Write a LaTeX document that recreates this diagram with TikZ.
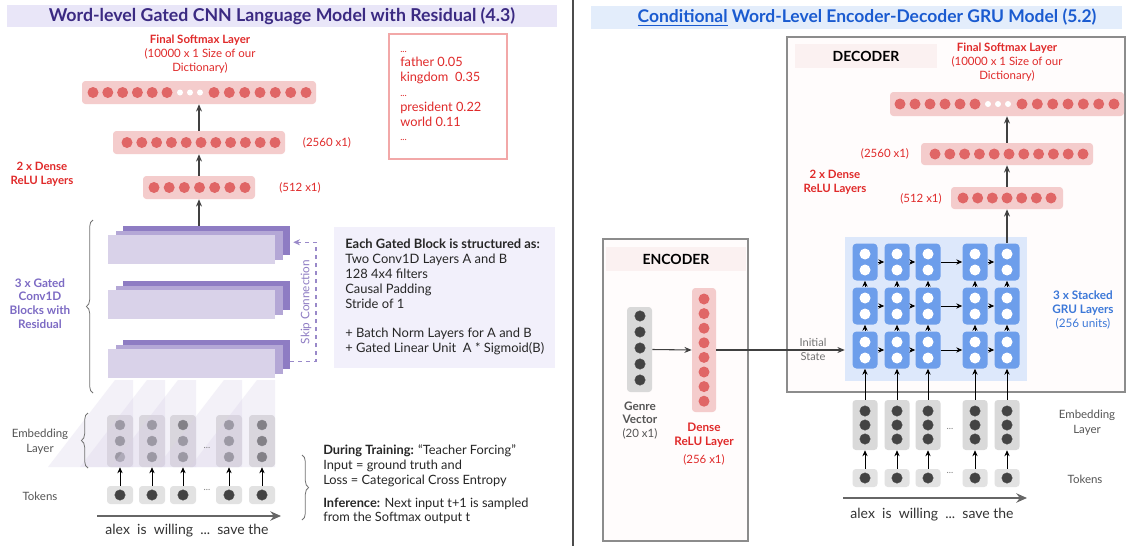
\documentclass[tikz,border=0pt]{standalone}
\usepackage{fontspec}
\setmainfont{Lato}
\usetikzlibrary{arrows.meta,decorations.pathreplacing,calc}
\newcommand*{\pxu}{*0.75pt}
\definecolor{lavband}{HTML}{E9E6F8}
\definecolor{lavtext}{HTML}{3B2A82}
\definecolor{redtxt}{HTML}{E02A2A}
\definecolor{barpink}{HTML}{F4CCCC}
\definecolor{dotred}{HTML}{E06666}
\definecolor{cvfront}{HTML}{D9D2E9}
\definecolor{cvmid}{HTML}{B4A7D6}
\definecolor{cvback}{HTML}{8E7CC3}
\definecolor{purptxt}{HTML}{7D6BC4}
\definecolor{infofill}{HTML}{F2F0FB}
\definecolor{boxgray}{HTML}{D9D9D9}
\definecolor{tokgray}{HTML}{E2E2E2}
\definecolor{darkdot}{HTML}{434343}
\definecolor{middot}{HTML}{5E5E5E}
\definecolor{grucell}{HTML}{6D9EEB}
\definecolor{grubgc}{HTML}{DDE8FB}
\definecolor{blueband}{HTML}{E3EDFB}
\definecolor{bluetxt}{HTML}{1A5BD0}
\definecolor{grutxt}{HTML}{3C78D8}
\definecolor{hdrpink}{HTML}{FBF1F1}
\definecolor{boxbg}{HTML}{FFFCFC}
\definecolor{probborder}{HTML}{F2A8A8}
\definecolor{labgray}{HTML}{555555}
\tikzset{
  bar/.style={fill=barpink, rounded corners=2.5pt, inner sep=0, draw=none},
  rdot/.style={circle, fill=dotred, inner sep=0, minimum size=11\pxu},
  wdot/.style={circle, fill=white, inner sep=0, minimum size=6\pxu},
  gdot/.style={circle, fill=white, inner sep=0, minimum size=11\pxu},
  ddot/.style={circle, fill=darkdot, draw=black!70, line width=0.3pt, inner sep=0, minimum size=10.5\pxu},
  mdot/.style={circle, fill=middot, draw=black!60, line width=0.3pt, inner sep=0, minimum size=10\pxu},
  arr/.style={draw=black!75, line width=0.8pt, -{Stealth[length=5.5pt,width=4.5pt]}},
  sarr/.style={draw=black, line width=0.7pt, -{Stealth[length=4.5pt,width=4pt]}},
  embbox/.style={fill=boxgray, rounded corners=2.5pt, inner sep=0},
  tokbox/.style={fill=tokgray, rounded corners=2.5pt, inner sep=0},
  gcell/.style={fill=grucell, rounded corners=3pt, inner sep=0, minimum width=25\pxu, minimum height=37\pxu},
  cvbox/.style={inner sep=0, minimum width=167\pxu, minimum height=29\pxu},
  brc/.style={decorate, decoration={brace, amplitude=5pt}, draw=black!55, line width=0.6pt},
  redlab/.style={text=redtxt, align=center, font=\fontsize{8.6}{10.5}\selectfont},
  graylab/.style={text=labgray, align=center, font=\fontsize{8.6}{11}\selectfont},
  body/.style={text=black!85, align=left, inner sep=0}
}
\begin{document}
\begin{tikzpicture}[x=0.75pt,y=-0.75pt]
\useasboundingbox (0,0) rectangle (1128,546);
\fill[white] (0,0) rectangle (1128,546);

% divider
\draw[line width=0.8pt, black!70] (573,0) -- (573,546);

%================ LEFT PANEL =================
\node[fill=lavband, minimum width=550\pxu, minimum height=22\pxu, inner sep=0,
      text=lavtext, font=\fontsize{13.3}{15}\selectfont\bfseries] (titleL) at (282,16)
      {Word-level Gated CNN Language Model with Residual (4.3)};

\node[redlab] (smLlab) at (200,54) {\textbf{Final Softmax Layer}\\(10000 x 1 Size of our\\Dictionary)};

\node[bar, minimum width=234\pxu, minimum height=23\pxu] (smL) at (199,92.5) {};
\foreach \x in {93,107.8,122.6,137.4,152.2,167,214,229.3,244.7,260,275.3,290.7,306}
  \node[rdot] at (\x,92.5) {};
\foreach \x in {180,190,200} \node[wdot] at (\x,92.5) {};

\node[bar, minimum width=172\pxu, minimum height=23\pxu] (h2L) at (199,142.5) {};
\foreach \i in {0,...,10} \node[rdot] at (127+14.8*\i,142.5) {};
\node[bar, minimum width=112\pxu, minimum height=23\pxu] (h1L) at (199,187.5) {};
\foreach \i in {0,...,6} \node[rdot] at (154+15.17*\i,187.5) {};

\draw[arr] (h2L.north) -- (smL.south);
\draw[arr] (h1L.north) -- (h2L.south);

\node[redlab] (h2Llab) at (327,143) {(2560 x1)};
\node[redlab] (h1Llab) at (300,188) {(512 x1)};
\node[redlab, font=\fontsize{8.6}{10.5}\selectfont\bfseries] (denseL) at (42,174) {2 x Dense\\ReLU Layers};

% probability box
\node[draw=probborder, line width=0.8pt, minimum width=118\pxu, minimum height=125\pxu, inner sep=0] (prob) at (448,96.5) {};
\node[anchor=west, align=left, inner sep=0, text=redtxt, font=\fontsize{9.6}{11.1}\selectfont] (probt) at (400,96)
  {{\scriptsize...}\\father 0.05\\kingdom\ \ 0.35\\{\scriptsize...}\\president 0.22\\world 0.11\\{\scriptsize...}};

% conv stacks
\foreach \T/\n in {235/1,290/2,349/3}{
  \node[cvbox, fill=cvback] (cv\n b) at (206.5,\T+5.5) {};
  \node[cvbox, fill=cvmid]  (cv\n m) at (199,\T+10) {};
  \node[cvbox, fill=cvfront] (cv\n f) at (191.5,\T+14.5) {};
}
\draw[arr] (h1L.south |- cv1b.north) -- (h1L.south);

% skip connection
\coordinate (skA) at ($(cv3b.south east)+(0,-8)$);
\coordinate (skB) at ($(cv1b.south east)+(3,-13)$);
\draw[draw=cvback!90, dashed, line width=0.8pt, -{Stealth[length=5pt,width=4.5pt]}]
  (skA) -- (skA -| 316,0) -- (skB -| 316,0) -- (skB);
\node[rotate=90, text=cvback, font=\fontsize{8.8}{10}\selectfont] (sklab) at (306,302) {Skip Connection};

\draw[brc] (93,393) -- (93,220);
\node[text=purptxt, align=center, font=\fontsize{8.8}{10.3}\selectfont\bfseries] (convlab) at (40,303.5)
  {3 x Gated\\Conv1D\\Blocks with\\Residual};

% info box
\node[fill=infofill, minimum width=221\pxu, minimum height=141\pxu, inner sep=0] (info) at (444.5,297.5) {};
\node[body, anchor=west, font=\fontsize{9.7}{11.25}\selectfont] (infot) at (345,297)
  {\textbf{Each Gated Block is structured as:}\\Two Conv1D Layers A and B\\128 4x4 filters\\Causal Padding\\Stride of 1\\[10.5pt]+ Batch Norm Layers for A and B\\+ Gated Linear Unit\ \ A * Sigmoid(B)};

% embedding + tokens (left)
\foreach \x [count=\c] in {120,152,183,229,262}{
  \node[embbox, minimum width=26\pxu, minimum height=52\pxu] (eL\c) at (\x,441) {};
  \foreach \y in {425,441,457} \node[mdot] at (\x,\y) {};
  \node[tokbox, minimum width=26\pxu, minimum height=18\pxu] (tkL\c) at (\x,495) {};
  \node[ddot] at (\x,495) {};
  \draw[sarr] (tkL\c.north) -- (eL\c.south);
}
% receptive-field triangles
\foreach \R in {133,165,196,242,275}
  \fill[cvfront, opacity=0.3] (\R-18,380) -- (\R,380) -- (\R,467) -- (\R-85,467) -- cycle;
\node[text=black!50, font=\fontsize{7}{8}\selectfont] (edotsL) at (207,448) {...};
\node[text=black!50, font=\fontsize{7}{8}\selectfont] (tdotsL) at (207,490) {...};
\draw[brc] (88,468) -- (88,413);
\node[graylab] (embLlab) at (40,442) {Embedding\\Layer};
\node[graylab] (tokLlab) at (40,496) {Tokens};

\coordinate (axL1) at (97,516);
\coordinate (axL2) at (281,516);
\draw[draw=black!60, line width=1.6pt, -{Stealth[length=8pt,width=7pt]}] (axL1) -- (axL2);
\node[text=black!80, font=\fontsize{10.5}{12}\selectfont] (wordsL) at (187,531) {alex\ \ is\ \ willing\ \ ...\ \ save the};

% training brace + text
\draw[brc] (302,455) -- (302,520);
\node[body, anchor=west, font=\fontsize{9.6}{10.9}\selectfont] (trainT) at (323,484.5)
  {\textbf{During Training:} ``Teacher Forcing''\\Input = ground truth and\\Loss = Categorical Cross Entropy\\[6.4pt]\textbf{Inference:} Next input t+1 is sampled\\from the Softmax output t};

%================ RIGHT PANEL =================
\node[fill=blueband, minimum width=531\pxu, minimum height=23\pxu, inner sep=0] (titleRb) at (856.5,17.5) {};
\node[text=bluetxt, font=\fontsize{13.1}{15}\selectfont\bfseries] (titleR) at (867,17.5)
  {\underline{Conditional} Word-Level Encoder-Decoder GRU Model (5.2)};

% decoder box
\node[draw=black!45, fill=boxbg, line width=0.8pt, minimum width=338\pxu, minimum height=355\pxu, inner sep=0] (decbox) at (956,214.5) {};
\node[fill=hdrpink, minimum width=142\pxu, minimum height=24\pxu, inner sep=0, font=\fontsize{10.5}{12}\selectfont\bfseries] (dech) at (866,56) {DECODER};

\node[redlab] (smRlab) at (1007,62) {\textbf{Final Softmax Layer}\\(10000 x 1 Size of our\\Dictionary)};
\node[bar, minimum width=234\pxu, minimum height=24\pxu] (smR) at (1007,104) {};
\foreach \x in {900,915,930,945,960,975,1022,1037.3,1052.7,1068,1083.3,1098.7,1114}
  \node[rdot] at (\x,104) {};
\foreach \x in {988,998,1008} \node[wdot] at (\x,104) {};
\node[bar, minimum width=172\pxu, minimum height=22\pxu] (h2R) at (1007,154) {};
\foreach \i in {0,...,10} \node[rdot] at (935+14.8*\i,154) {};
\node[bar, minimum width=112\pxu, minimum height=22\pxu] (h1R) at (1007,198) {};
\foreach \i in {0,...,6} \node[rdot] at (963+14.67*\i,198) {};
\draw[arr] (h2R.north) -- (smR.south);
\draw[arr] (h1R.north) -- (h2R.south);
\node[redlab] (h2Rlab) at (885,154) {(2560 x1)};
\node[redlab] (h1Rlab) at (921,199) {(512 x1)};
\node[redlab, font=\fontsize{8.6}{10.5}\selectfont\bfseries] (denseR) at (835,182) {2 x Dense\\ReLU Layers};

% GRU grid
\node[fill=grubgc, minimum width=182\pxu, minimum height=144\pxu, inner sep=0] (grubg) at (936,309) {};
\foreach \x [count=\c] in {865,897,928,975,1007}{
  \foreach \y [count=\r] in {262,306,350}{
    \node[gcell] (g\r-\c) at (\x,\y) {};
    \node[gdot] at (\x,\y-8) {};
    \node[gdot] at (\x,\y+8) {};
  }
}
\foreach \r in {1,2,3}{
  \foreach \c/\d in {1/2,2/3,3/4,4/5} \draw[sarr] (g\r-\c.east) -- (g\r-\d.west);
}
\foreach \c in {1,...,5}{
  \draw[sarr] (g3-\c.north) -- (g2-\c.south);
  \draw[sarr] (g2-\c.north) -- (g1-\c.south);
}
\draw[arr] (g1-5.north) -- (h1R.south);
\node[text=grutxt, align=center, font=\fontsize{8.8}{10.5}\selectfont] (grulab) at (1083,310)
  {\textbf{3 x Stacked}\\\textbf{GRU Layers}\\(256 units)};

% embedding + tokens (right)
\foreach \x [count=\c] in {865,897,928,975,1007}{
  \node[embbox, minimum width=25\pxu, minimum height=50\pxu] (eR\c) at (\x,425) {};
  \foreach \y in {411,425,439} \node[ddot] at (\x,\y) {};
  \node[tokbox, minimum width=25\pxu, minimum height=18\pxu] (tkR\c) at (\x,478) {};
  \node[ddot] at (\x,478) {};
  \draw[sarr] (tkR\c.north) -- (eR\c.south);
  \draw[sarr] (eR\c.north) -- (g3-\c.south);
}
\node[text=black!50, font=\fontsize{7}{8}\selectfont] (edotsR) at (950,429) {...};
\node[text=black!50, font=\fontsize{7}{8}\selectfont] (tdotsR) at (950,473) {...};
\node[graylab] (embRlab) at (1087,423) {Embedding\\Layer};
\node[graylab] (tokRlab) at (1085,479) {Tokens};
\coordinate (axR1) at (843,498);
\coordinate (axR2) at (1027,498);
\draw[draw=black!60, line width=1.6pt, -{Stealth[length=8pt,width=7pt]}] (axR1) -- (axR2);
\node[text=black!80, font=\fontsize{10.5}{12}\selectfont] (wordsR) at (932,515) {alex\ \ is\ \ willing\ \ ...\ \ save the};

% encoder
\node[draw=black!45, fill=boxbg, line width=0.8pt, minimum width=145\pxu, minimum height=302\pxu, inner sep=0] (encbox) at (675.5,390) {};
\node[fill=hdrpink, minimum width=140\pxu, minimum height=24\pxu, inner sep=0, font=\fontsize{10.5}{12}\selectfont\bfseries] (ench) at (676,259) {ENCODER};
\node[embbox, minimum width=25\pxu, minimum height=85\pxu] (genre) at (639.5,349.5) {};
\foreach \y in {316,332,348,364,380} \node[ddot] at (640,\y) {};
\node[bar, minimum width=24\pxu, minimum height=124\pxu] (dense) at (704,350) {};
\foreach \i in {0,...,7} \node[rdot] at (704,299+14.6*\i) {};
\draw[arr] (genre.east) -- (dense.west);
\draw[arr] (dense.east) -- (dense.east -| grubg.west);
\node[text=black!55, align=center, font=\fontsize{8.3}{10}\selectfont] (initlab) at (813,349.5) {Initial\\State};
\node[graylab, font=\fontsize{8.8}{10}\selectfont\bfseries] (genrelab) at (640,412.5) {Genre\\Vector};
\node[graylab] (genresz) at (640,434) {(20 x1)};
\node[redlab, font=\fontsize{8.8}{10.5}\selectfont\bfseries] (denselab) at (704,435) {Dense\\ReLU Layer};
\node[redlab] (densesz) at (704,460) {(256 x1)};
\end{tikzpicture}
\end{document}
